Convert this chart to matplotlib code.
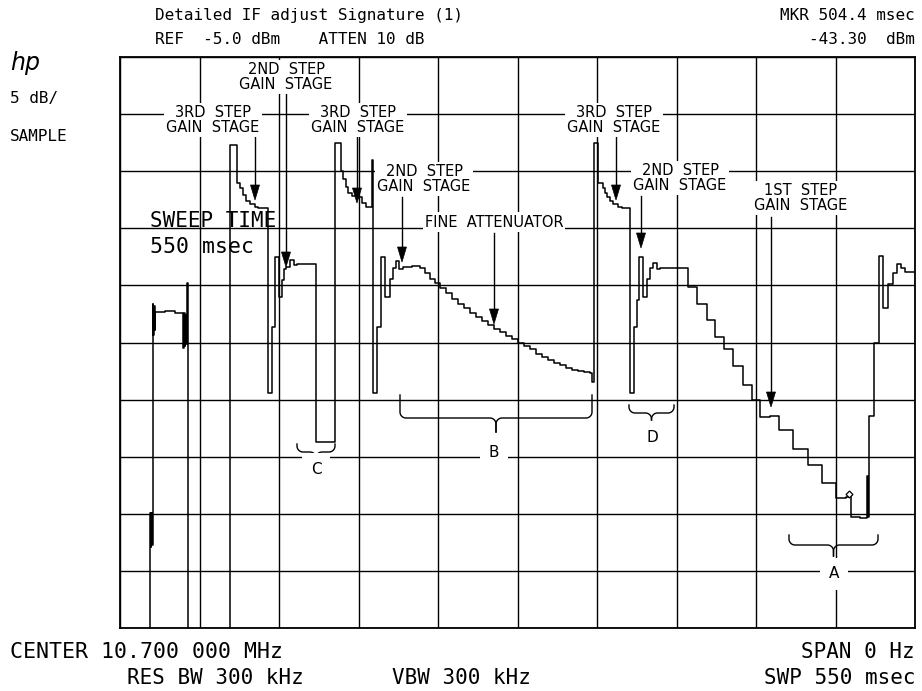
import numpy as np
import matplotlib
matplotlib.use("Agg")
import matplotlib.pyplot as plt
from matplotlib.patches import Polygon

SWEEP_MS = 550.0          # span of the time axis
REF_DBM = -5.0            # top graticule line
DB_PER_DIV = 5.0
N_DIV = 10
OFFSCREEN_DBM = -60.0     # trace level below the bottom graticule

# step trace: each level starts at the given sweep time (ms)
time_ms = [
    0.0, 20.75, 21.2, 21.6, 22.0, 22.6, 23.0, 23.5, 23.9, 24.4, 31.1, 38.0,
    43.8, 44.3, 44.8, 45.2, 45.8, 46.4, 46.8,
    76.1, 80.6, 83.0, 84.9, 87.2, 89.9, 93.4, 95.5,
    102.4, 104.9, 107.2, 110.2, 112.1, 113.2, 114.8, 117.6, 120.4, 122.5, 135.9,
    148.7, 152.9, 154.5, 156.3, 157.9, 160.3, 163.8, 167.4, 170.2, 174.0, 174.7,
    177.6, 180.4, 183.3, 186.8, 188.7, 191.0, 193.0, 195.8, 202.0,
    207.5, 211.0, 214.5, 217.9, 221.4, 225.5, 229.7, 233.8, 238.0, 242.1,
    246.3, 250.4, 254.6, 258.7, 262.9, 267.0, 271.2, 275.3, 279.5, 283.6,
    287.8, 291.9, 296.1, 300.2, 304.4, 308.5, 312.7, 316.8, 321.0, 325.1,
    326.2, 327.6, 330.9, 333.9, 335.5, 337.1, 339.0, 341.3, 344.7, 347.2,
    352.8, 355.8, 357.6, 359.4, 361.8, 364.8, 367.0, 368.7, 371.2, 373.6,
    393.2, 399.0, 405.9, 411.6, 417.9, 424.3, 431.2, 437.0, 442.8, 449.7,
    456.1, 465.8, 476.2, 486.0, 495.3, 502.2, 504.3, 505.4, 505.6, 511.9,
    516.8, 517.2, 518.4, 521.8, 525.3, 528.1, 531.5, 534.6, 537.5, 540.1,
    543.1, 550.0,
]
level_dbm = [
    -60.0, -44.9, -47.9, -44.9, -47.7, -26.6, -29.3, -26.8, -28.9, -27.3, -27.2, -27.4,
    -30.5, -27.4, -30.3, -27.6, -30.1, -24.8, -60.0,
    -12.7, -16.0, -16.5, -17.1, -17.6, -17.9, -18.1, -18.2,
    -34.4, -28.6, -22.5, -26.0, -24.5, -23.6, -23.4, -22.8, -23.2, -23.1, -38.7,
    -12.5, -15.0, -15.7, -16.4, -16.9, -17.2, -17.3, -17.8, -18.1, -14.0, -34.4,
    -28.6, -22.5, -26.0, -24.4, -23.5, -22.9, -23.6, -23.4, -23.3,
    -23.5, -23.9, -24.4, -24.8, -25.2, -25.7, -26.2, -26.6, -27.0, -27.4,
    -27.8, -28.1, -28.5, -28.8, -29.1, -29.4, -29.7, -30.0, -30.3, -30.6,
    -31.0, -31.3, -31.5, -31.8, -32.0, -32.2, -32.4, -32.5, -32.6, -32.7,
    -33.5, -12.5, -16.0, -16.5, -16.9, -17.3, -17.6, -17.9, -18.1, -18.2,
    -34.4, -28.6, -26.3, -22.5, -26.0, -24.4, -23.5, -23.0, -23.6, -23.5,
    -25.1, -26.6, -28.0, -29.5, -30.6, -32.1, -33.7, -35.0, -36.5, -36.4,
    -37.7, -39.3, -40.7, -42.3, -43.6, -43.5, -43.3, -43.6, -45.3, -45.4,
    -41.7, -45.3, -36.4, -30.0, -22.4, -27.0, -24.9, -23.9, -23.1, -23.5,
    -23.8, -23.8,
]
assert len(time_ms) == len(level_dbm)

marker_ms = 504.4
marker_dbm = -43.30

header_left = ["Detailed IF adjust Signature (1)", "REF  -5.0 dBm    ATTEN 10 dB"]
header_right = ["MKR 504.4 msec", "-43.30  dBm"]
side_texts = ["5 dB/", "SAMPLE"]
footer = ["CENTER 10.700 000 MHz", "SPAN 0 Hz", "RES BW 300 kHz", "VBW 300 kHz", "SWP 550 msec"]

annotations = [
    "2ND  STEP\nGAIN  STAGE",
    "3RD  STEP\nGAIN  STAGE",
    "3RD  STEP\nGAIN  STAGE",
    "2ND  STEP\nGAIN  STAGE",
    "FINE  ATTENUATOR",
    "3RD  STEP\nGAIN  STAGE",
    "2ND  STEP\nGAIN  STAGE",
    "1ST  STEP\nGAIN  STAGE",
]
brace_letters = ["A", "B", "C", "D"]

# ---------------- figure ----------------
W, H = 922, 691
fig = plt.figure(figsize=(W / 100, H / 100), dpi=100)
fig.patch.set_facecolor("white")

L, R, T, B = 120, 915, 57, 628
ax = fig.add_axes([L / W, 1 - B / H, (R - L) / W, (B - T) / H])
bottom_dbm = REF_DBM - N_DIV * DB_PER_DIV
ax.set_xlim(0, SWEEP_MS)
ax.set_ylim(bottom_dbm, REF_DBM)
ax.set_xticks(np.linspace(0, SWEEP_MS, N_DIV + 1))
ax.set_yticks(np.linspace(bottom_dbm, REF_DBM, N_DIV + 1))
ax.tick_params(length=0, labelbottom=False, labelleft=False)
ax.grid(True, color="black", lw=1.0)
ax.set_axisbelow(True)
for s in ax.spines.values():
    s.set_color("black")
    s.set_linewidth(1.3)

ax.plot(time_ms, level_dbm, drawstyle="steps-post", color="black", lw=1.1, zorder=3)
ax.plot([marker_ms], [marker_dbm], marker="D", ms=3.5, mfc="white", mec="black", mew=0.9, zorder=4)

# ---------------- overlay in pixel coordinates ----------------
ov = fig.add_axes([0, 0, 1, 1])
ov.set_xlim(0, W)
ov.set_ylim(H, 0)
ov.axis("off")
ov.set_zorder(5)

MONO = "DejaVu Sans Mono"
SANS = "DejaVu Sans"

ov.text(155, 20, header_left[0], family=MONO, fontsize=11.5, va="baseline", ha="left")
ov.text(155, 44, header_left[1], family=MONO, fontsize=11.5, va="baseline", ha="left")
ov.text(915, 20, header_right[0], family=MONO, fontsize=11.5, va="baseline", ha="right")
ov.text(915, 44, header_right[1], family=MONO, fontsize=11.5, va="baseline", ha="right")

ov.text(10, 70, "hp", family=SANS, style="italic", fontsize=17, va="baseline", ha="left")
ov.text(10, 103, side_texts[0], family=MONO, fontsize=11.5, va="baseline", ha="left")
ov.text(10, 141, side_texts[1], family=MONO, fontsize=11.5, va="baseline", ha="left")

ov.text(10, 658, footer[0], family=MONO, fontsize=15.5, va="baseline", ha="left")
ov.text(915, 658, footer[1], family=MONO, fontsize=15, va="baseline", ha="right")
ov.text(127, 684, footer[2], family=MONO, fontsize=15, va="baseline", ha="left")
ov.text(392, 684, footer[3], family=MONO, fontsize=15, va="baseline", ha="left")
ov.text(915, 684, footer[4], family=MONO, fontsize=15, va="baseline", ha="right")

ov.text(150, 227, "SWEEP TIME", family=MONO, fontsize=15, va="baseline", ha="left")
ov.text(150, 253, "550 msec", family=MONO, fontsize=15.5, va="baseline", ha="left")

label_pos = [(286, 77), (213, 120), (358, 120), (424, 179), (494, 222),
             (614, 120), (680, 178), (801, 198)]
white = dict(facecolor="white", edgecolor="none", pad=1.5)
for txt, (x, y) in zip(annotations, label_pos):
    ov.text(x, y, txt, family=SANS, fontsize=10.5, ha="center", va="center",
            multialignment="center", linespacing=1.0, bbox=white)

def arrow(x, y0, y1, hl=15, hw=4.5):
    ov.plot([x, x], [y0, y1 - hl + 1], color="black", lw=1.0)
    ov.add_patch(Polygon([[x - hw, y1 - hl], [x + hw, y1 - hl], [x, y1]],
                         closed=True, facecolor="black", edgecolor="black", lw=0.5))

for x, y0, y1 in [(255, 135, 200), (286, 93, 267), (357, 135, 203), (402, 197, 262),
                  (494, 233, 324), (616, 135, 200), (641, 196, 248), (771, 217, 407)]:
    arrow(x, y0, y1)

def brace(x1, x2, ybar, yend, ytip):
    xm = (x1 + x2) / 2
    r = min(6.0, (x2 - x1) / 6, (ybar - yend))
    rt = min(6.0, ytip - ybar)
    th = np.linspace(np.pi, np.pi / 2, 12)
    lx = list(x1 + r + r * np.cos(th))
    ly = list(ybar - r + r * np.sin(th))
    th2 = np.linspace(-np.pi / 2, 0, 12)
    mx = list(xm - rt + rt * np.cos(th2))
    my = list(ybar + rt + rt * np.sin(th2))
    xs = [x1] + lx + mx + [xm]
    ys = [yend] + ly + my + [ytip]
    ov.plot(xs, ys, color="black", lw=1.0)
    ov.plot([2 * xm - v for v in xs], ys, color="black", lw=1.0)

brace(789, 878, 545, 535, 556)
brace(400, 592, 418, 395, 432)
brace(297, 335, 452, 444, 459)
brace(629, 674, 413, 405, 420)

letter_pos = [(834, 574), (494, 452), (316, 469), (652, 437)]
for ch, (x, y) in zip(brace_letters, letter_pos):
    ov.text(x, y, ch, family=SANS, fontsize=11, ha="center", va="center",
            bbox=dict(facecolor="white", edgecolor="none", pad=6))

fig.savefig("out.png", dpi=100, facecolor="white")
